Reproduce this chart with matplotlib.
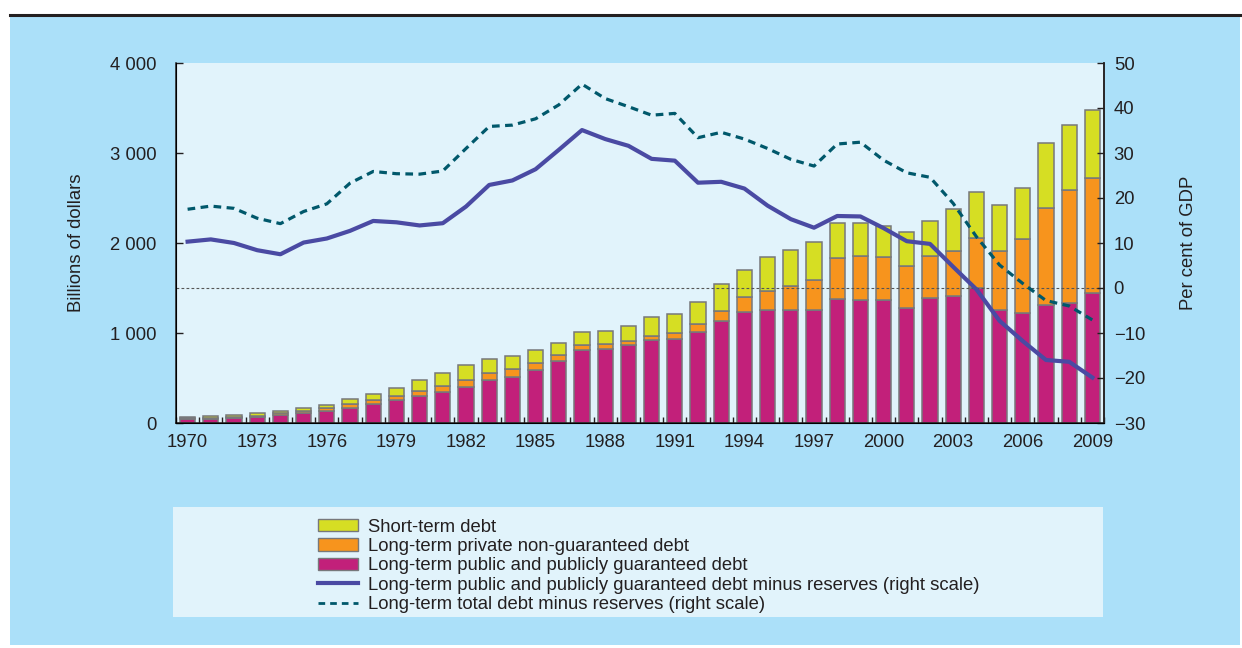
import numpy as np
import matplotlib.pyplot as plt
from matplotlib.patches import Patch
from matplotlib.lines import Line2D

plt.rcParams['font.family'] = ['Liberation Sans', 'DejaVu Sans']

years = np.arange(1970, 2010)

# billions of dollars (left scale)
public_lt = [44, 48, 55, 67, 89, 107, 137, 170, 214, 251, 300, 344, 403, 473, 514, 585, 692, 807, 822, 866,
             918, 937, 1011, 1133, 1233, 1259, 1256, 1259, 1378, 1370, 1363, 1274, 1393, 1407, 1500, 1252, 1222, 1315, 1333, 1444]
private_lt = [8, 10, 10, 14, 22, 26, 30, 37, 41, 52, 52, 67, 75, 86, 86, 78, 67, 59, 51, 48,
              52, 63, 85, 111, 167, 204, 263, 334, 455, 482, 481, 474, 466, 508, 556, 663, 826, 1070, 1260, 1275]
short_term = [15, 20, 24, 26, 22, 34, 29, 56, 67, 81, 122, 145, 162, 148, 140, 144, 133, 148, 145, 159,
              203, 214, 248, 296, 300, 381, 407, 414, 389, 370, 341, 378, 382, 463, 507, 507, 560, 726, 714, 755]

# per cent of GDP (right scale)
public_minus_res = [10.3, 10.8, 10.0, 8.4, 7.5, 10.1, 11.0, 12.7, 14.9, 14.6, 13.9, 14.4, 18.1, 22.9, 23.9, 26.4,
                    30.7, 35.1, 33.1, 31.6, 28.7, 28.3, 23.4, 23.6, 22.1, 18.3, 15.3, 13.4, 16.0, 15.9,
                    13.3, 10.4, 9.8, 4.7, -0.3, -7.3, -11.8, -16.0, -16.4, -19.9]
total_minus_res = [17.5, 18.2, 17.7, 15.5, 14.3, 17.0, 18.7, 23.3, 25.9, 25.4, 25.3, 26.0, 31.0, 35.9, 36.2, 37.6,
                   40.7, 45.3, 42.1, 40.3, 38.4, 38.8, 33.4, 34.6, 33.1, 31.0, 28.6, 27.1, 32.0, 32.4,
                   28.4, 25.6, 24.6, 18.8, 11.4, 5.1, 1.0, -2.8, -4.0, -7.1]

labels = ["Short-term debt",
          "Long-term private non-guaranteed debt",
          "Long-term public and publicly guaranteed debt",
          "Long-term public and publicly guaranteed debt minus reserves (right scale)",
          "Long-term total debt minus reserves (right scale)"]

c_short = '#d6de23'
c_priv = '#f7941d'
c_pub = '#c2207a'
c_solid = '#4a4aa3'
c_dash = '#00586b'
edge = '#77787b'
panel = '#abe0f9'
inner = '#e1f3fb'
ink = '#231f20'
fs = 13.3

W, H = 1242, 648
fig = plt.figure(figsize=(W / 100, H / 100), dpi=100)
fig.patch.set_facecolor('white')

# background panel
bg = fig.add_axes([10 / W, 3 / H, 1230 / W, 630 / H], zorder=-5)
bg.set_facecolor(panel)
bg.set_xticks([])
bg.set_yticks([])
for s in bg.spines.values():
    s.set_visible(False)
fig.lines.append(Line2D([10 / W, 1.0], [1 - 15 / H, 1 - 15 / H], transform=fig.transFigure,
                        color=ink, lw=2.2))

ax = fig.add_axes([176 / W, 1 - 423 / H, 928 / W, 360 / H])
ax.set_facecolor(inner)
w = 0.65
pub = np.array(public_lt)
prv = np.array(private_lt)
ax.bar(years, pub, width=w, color=c_pub, edgecolor=edge, linewidth=1.1, zorder=2)
ax.bar(years, prv, width=w, bottom=pub, color=c_priv, edgecolor=edge, linewidth=1.1, zorder=2)
ax.bar(years, short_term, width=w, bottom=pub + prv, color=c_short, edgecolor=edge, linewidth=1.1, zorder=2)

ax.set_xlim(1969.57, 2009.43)
ax.set_ylim(0, 4000)
ax.set_yticks([0, 1000, 2000, 3000, 4000])
ax.set_yticklabels(['0', '1 000', '2 000', '3 000', '4 000'])
ax.set_xticks(years[::3])
ax.set_xticks(np.arange(1969.5, 2009.6, 1), minor=True)
ax.tick_params(axis='x', which='major', length=0, pad=8, labelsize=fs, colors=ink)
ax.tick_params(axis='x', which='minor', direction='in', length=4.5, width=1, color=ink)
ax.tick_params(axis='y', direction='in', length=5, width=1, pad=14, labelsize=fs, colors=ink)
ax.set_ylabel('Billions of dollars', fontsize=fs, color=ink, labelpad=18)
ax.spines['top'].set_visible(False)
for s in ['left', 'bottom', 'right']:
    ax.spines[s].set_color(ink)
    ax.spines[s].set_linewidth(1.1)

ax2 = ax.twinx()
ax2.set_ylim(-30, 50)
ax2.set_yticks(np.arange(-30, 51, 10))
ax2.axhline(0, color='#555555', lw=0.8, linestyle=(0, (2.5, 2)), zorder=1)
ax2.plot(years, total_minus_res, color=c_dash, lw=2.3, linestyle=(0, (2.4, 1.7)), zorder=3)
ax2.plot(years, public_minus_res, color=c_solid, lw=3.0, zorder=4, solid_joinstyle='round')
ax2.tick_params(axis='y', direction='in', length=5, width=1, pad=7, labelsize=fs, colors=ink)
ax2.set_ylabel('Per cent of GDP', fontsize=fs, color=ink, labelpad=25)
ax2.spines['top'].set_visible(False)
ax2.spines['right'].set_color(ink)
ax2.spines['right'].set_linewidth(1.1)

lax = fig.add_axes([173 / W, 1 - 617 / H, 930 / W, 110 / H])
lax.set_facecolor(inner)
lax.set_xticks([])
lax.set_yticks([])
for s in lax.spines.values():
    s.set_visible(False)
handles = [Patch(facecolor=c_short, edgecolor=edge, lw=1.0),
           Patch(facecolor=c_priv, edgecolor=edge, lw=1.0),
           Patch(facecolor=c_pub, edgecolor=edge, lw=1.0),
           Line2D([], [], color=c_solid, lw=3.0),
           Line2D([], [], color=c_dash, lw=2.0, linestyle=(0, (2.4, 1.8)))]
lax.legend(handles, labels, loc='upper left', bbox_to_anchor=(0.156, 0.895), frameon=False,
           fontsize=fs, handlelength=2.15, handleheight=0.65, handletextpad=0.55,
           labelspacing=0.13, borderaxespad=0, borderpad=0, labelcolor=ink)

fig.savefig('out.png', dpi=100, facecolor='white')
